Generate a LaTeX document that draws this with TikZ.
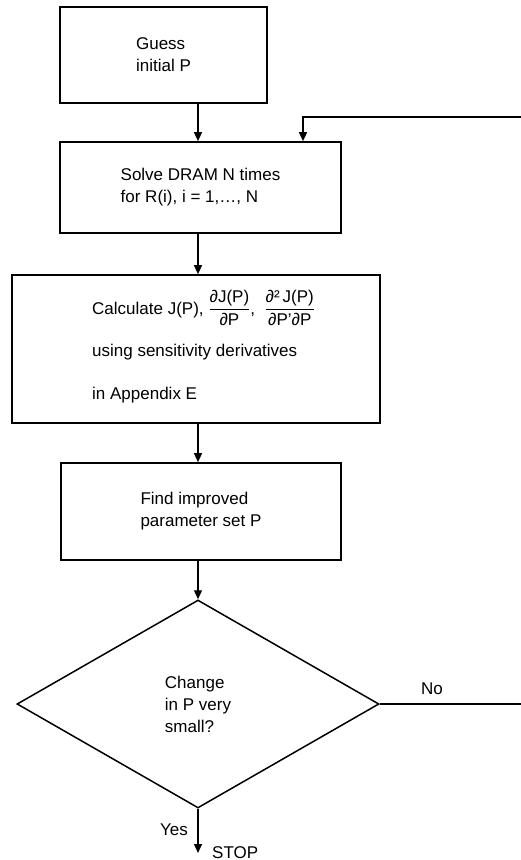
\documentclass[tikz,border=0pt]{standalone}
\usepackage{fontspec}
\setmainfont{Liberation Sans}
\usetikzlibrary{shapes.geometric,arrows.meta}
\begin{document}
\begin{tikzpicture}[x=1pt,y=-1pt,
  every node/.style={font=\fontsize{17}{22}\selectfont},
  boxnode/.style={draw, line width=1.7pt, rectangle, inner sep=0pt, align=left},
  decision/.style={draw, line width=1.5pt, diamond, aspect=1.74, inner sep=0pt, align=left},
  txt/.style={inner sep=0pt, anchor=base west},
  arr/.style={line width=1.4pt, -{Triangle[width=8pt,length=9pt]}},
  conn/.style={line width=1.4pt}]
\useasboundingbox (0,0) rectangle (521,860);
% boxes
\node[boxnode, minimum width=207pt, minimum height=96pt] (b1) at (163.5,55) {Guess\\initial P};
\node[boxnode, minimum width=281pt, minimum height=91pt] (b2) at (200.5,187.5) {Solve DRAM N times\\for R(i), i = 1,\dots, N};
\node[boxnode, minimum width=368pt, minimum height=148pt] (b3) at (196,349) {};
\node[txt] (t3a) at (92,314) {Calculate J(P), $\displaystyle\frac{\mbox{∂J(P)}}{\mbox{∂P}}$,\; $\displaystyle\frac{\mbox{∂²\,J(P)}}{\mbox{∂P’∂P}}$};
\node[txt] (t3b) at (92,356) {using sensitivity derivatives};
\node[txt] (t3c) at (92,399) {in Appendix E};
\node[boxnode, minimum width=280pt, minimum height=97pt] (b4) at (201,511.5) {Find improved\\parameter set P};
\node[decision, minimum width=362pt, minimum height=208pt] (dia) at (198,704) {Change\\in P very\\small?};
% connectors
\coordinate (ax) at (198,0);
\draw[arr] (b1.south -| ax) -- (b2.north -| ax);
\draw[arr] (b2.south -| ax) -- (b3.north -| ax);
\draw[arr] (b3.south -| ax) -- (b4.north -| ax);
\draw[arr] (b4.south -| ax) -- (dia.north);
\coordinate (rtop) at (521,117);
\coordinate (rx) at (303,0);
\draw[arr] (rtop) -| (b2.north -| rx);
\coordinate (noend) at (521,704);
\draw[conn] (dia.east) -- (noend);
\node (nolbl) at (432,689) {No};
\coordinate (stop) at (198,853);
\draw[arr] (dia.south) -- (stop);
\node[inner sep=0pt, anchor=base east] (yes) at (188,835) {Yes};
\node[txt] (stoplbl) at (212,858) {STOP};
\end{tikzpicture}
\end{document}
